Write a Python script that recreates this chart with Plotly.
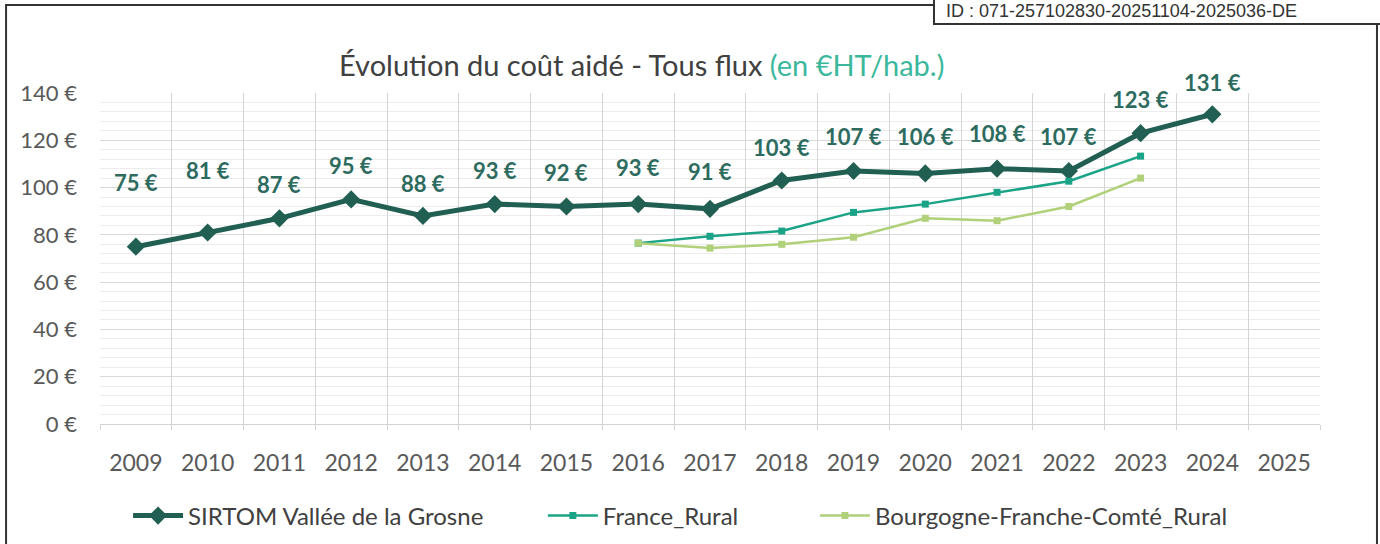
import plotly.graph_objects as go

years = [str(y) for y in range(2009, 2026)]
sirtom = [75, 81, 87, 95, 88, 93, 92, 93, 91, 103, 107, 106, 108, 107, 123, 131, None]
france_rural = [None] * 7 + [76.5, 79.4, 81.6, 89.5, 93, 98, 102.7, 113.3, None]
bfc_rural = [None] * 7 + [76.5, 74.4, 76, 79, 87, 86, 92, 104, None]
label_shift = [64, 62, 34, 34, 32, 34, 34, 37, 37, 33, 35, 37, 35, 35, 34, 32]

DARK = '#215f53'
TEAL = '#1aa386'
LIME = '#b0d07a'
FONT = 'Lato'

fig = go.Figure()
fig.add_trace(go.Scatter(
    x=years, y=sirtom, name='SIRTOM Vallée de la Grosne', mode='lines+markers',
    line=dict(color=DARK, width=5),
    marker=dict(symbol='diamond', size=14, color=DARK), legend='legend'
))
fig.add_trace(go.Scatter(
    x=years, y=france_rural, name='France_Rural', mode='lines+markers',
    line=dict(color=TEAL, width=2.5),
    marker=dict(symbol='square', size=7, color=TEAL), legend='legend2'
))
fig.add_trace(go.Scatter(
    x=years, y=bfc_rural, name='Bourgogne-Franche-Comté_Rural', mode='lines+markers',
    line=dict(color=LIME, width=2.5),
    marker=dict(symbol='square', size=7, color=LIME), legend='legend3'
))

# data labels above the SIRTOM series
for i, (val, dy) in enumerate(zip(sirtom, label_shift)):
    if val is None:
        continue
    fig.add_annotation(
        x=i, y=val, text=f'{val} €', showarrow=False, yshift=dy,
        font=dict(family=FONT, size=22, color='#2d6b5f', weight='bold')
    )

# title, two colours
fig.add_annotation(
    xref='paper', yref='paper', x=0.444, y=1.145, showarrow=False,
    text="Évolution du coût aidé - Tous flux <span style='color:#3bb89c'>(en €HT/hab.)</span>",
    font=dict(family=FONT, size=29, color='#404040')
)

# outer frame and ID box
fig.add_shape(type='rect', xref='paper', yref='paper', x0=-0.077, x1=1.0467, y0=-0.45, y1=1.266,
              line=dict(color='#333333', width=2), fillcolor='rgba(0,0,0,0)', layer='below')
fig.add_shape(type='rect', xref='paper', yref='paper', x0=0.6836, x1=1.08, y0=1.2085, y1=1.32,
              line=dict(color='#333333', width=2), fillcolor='white')
fig.add_annotation(
    xref='paper', yref='paper', x=0.692, y=1.2477, xanchor='left', yanchor='middle',
    showarrow=False, text='ID : 071-257102830-20251104-2025036-DE',
    font=dict(family='Liberation Sans', size=18, color='#333333')
)

fig.update_xaxes(
    type='category', range=[-0.5, 16.5], tickson='boundaries', showgrid=True, gridcolor='#d4d4d4',
    ticks='outside', ticklen=5, tickcolor='#d4d4d4', tickangle=0,
    showline=True, linecolor='#d4d4d4', ticklabelstandoff=18,
    tickfont=dict(family=FONT, size=23, color='#595959')
)
fig.update_yaxes(
    range=[0, 140], dtick=20, ticksuffix=' €', showgrid=True, gridcolor='#d9d9d9',
    zeroline=False, ticklabelstandoff=22,
    minor=dict(dtick=4, showgrid=True, gridcolor='#ececec'),
    tickfont=dict(family=FONT, size=22, color='#595959')
)
leg = dict(orientation='h', y=-0.278, yanchor='middle', xanchor='left',
           font=dict(family=FONT, size=24, color='#404040'), itemwidth=50)
fig.update_layout(
    width=1380, height=544,
    margin=dict(l=100, r=60, t=93, b=120, autoexpand=False),
    paper_bgcolor='white', plot_bgcolor='white',
    showlegend=True,
    legend=dict(leg, x=0.023),
    legend2=dict(leg, x=0.363),
    legend3=dict(leg, x=0.586),
)

fig.write_html('out.html', config={'displayModeBar': False},
               post_script="document.body.style.margin='0';")
